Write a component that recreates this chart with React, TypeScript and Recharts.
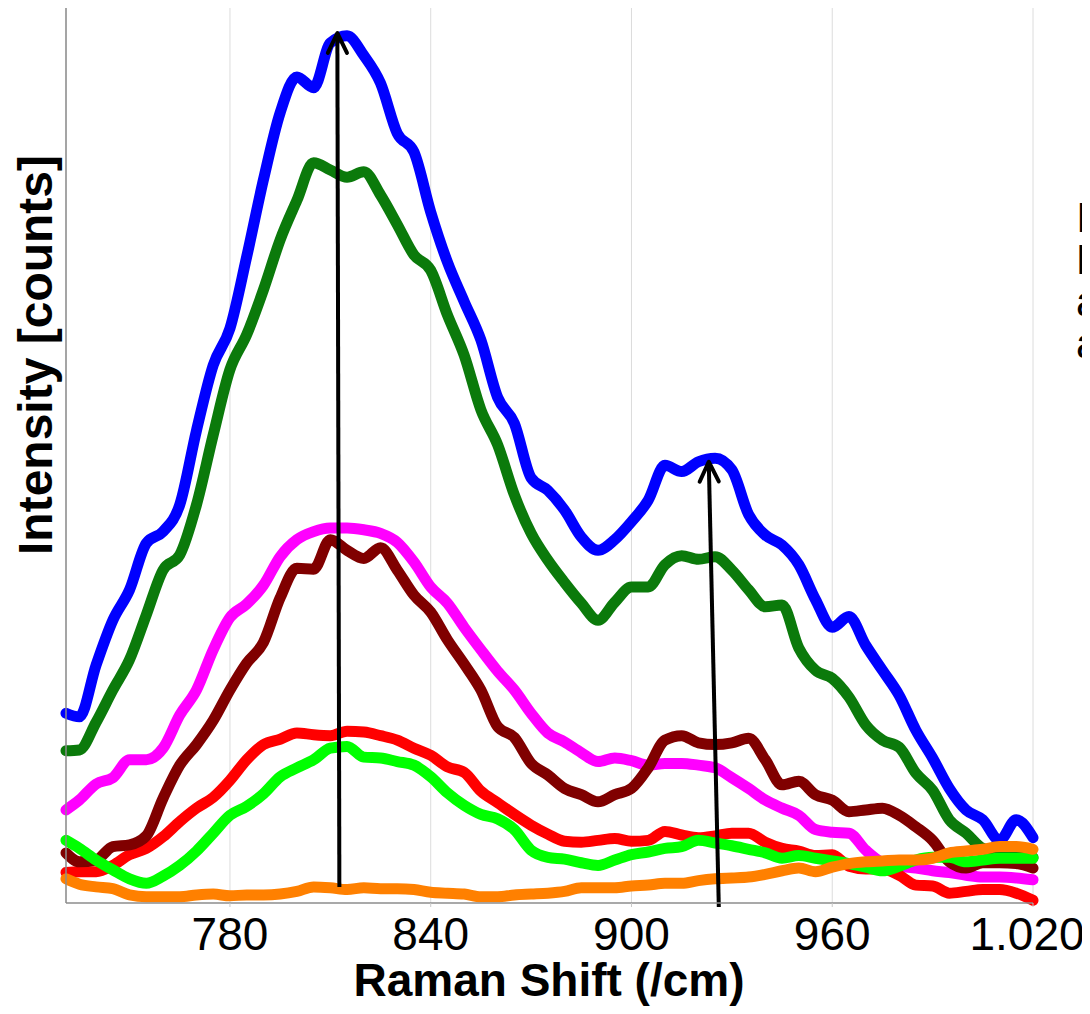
import { LineChart, Line, XAxis, YAxis, CartesianGrid, ReferenceLine } from 'recharts';

// Raman shift (/cm) sample positions
const ramanShift = [
  731, 735, 740, 745, 750, 755, 760, 765, 770, 775, 780, 785, 790, 795, 800, 805, 810, 815, 820, 825,
  830, 835, 840, 845, 850, 855, 860, 865, 870, 875, 880, 885, 890, 895, 900, 905, 910, 915, 920, 925,
  930, 935, 940, 945, 950, 955, 960, 965, 970, 975, 980, 985, 990, 995, 1000, 1005, 1010, 1015, 1020,
];

// intensities (arbitrary units)
const blueSeries = [
  21.2, 20.8, 26.6, 31.6, 35.0, 40.2, 41.5, 44.5, 52.8, 60.1, 64.2, 72.2, 80.8, 88.3, 92.3, 91.1, 96.1, 96.9, 94.7, 91.6,
  86.0, 83.9, 77.2, 71.6, 67.2, 62.9, 56.5, 53.6, 47.5, 46.1, 43.9, 40.9, 39.4, 40.6, 42.6, 45.0, 48.9, 48.2, 49.3, 49.7,
  48.4, 43.4, 41.1, 40.0, 37.8, 33.9, 30.8, 32.0, 28.8, 26.0, 23.2, 19.3, 16.2, 12.8, 10.4, 9.3, 7.0, 9.3, 7.3,
];
const greenSeries = [
  17.0, 17.1, 20.2, 23.8, 27.2, 32.2, 37.2, 38.9, 44.5, 52.3, 59.6, 63.5, 68.5, 74.1, 78.5, 82.7, 81.9, 81.1, 81.7, 79.1,
  75.8, 72.4, 70.7, 65.7, 61.2, 55.1, 51.2, 45.6, 41.3, 38.3, 35.8, 33.5, 31.6, 33.6, 35.3, 35.3, 37.8, 38.8, 38.4, 38.7,
  37.2, 35.0, 33.1, 33.3, 28.5, 26.0, 25.1, 23.0, 19.9, 18.2, 17.4, 14.5, 12.6, 9.3, 7.8, 6.1, 5.7, 5.5, 5.1,
];
const magentaSeries = [
  10.4, 11.5, 13.3, 14.0, 16.0, 16.0, 17.3, 21.0, 23.8, 28.3, 31.9, 33.4, 35.5, 38.7, 40.6, 41.5, 41.9, 41.9, 41.7, 41.3,
  40.3, 38.1, 35.3, 33.5, 30.8, 28.3, 25.9, 23.8, 21.2, 19.0, 18.0, 16.8, 15.8, 16.2, 15.9, 15.4, 15.6, 15.6, 15.4, 15.1,
  14.0, 12.8, 11.5, 10.6, 9.8, 8.2, 7.9, 7.8, 5.9, 4.5, 4.1, 3.9, 3.6, 3.4, 3.1, 2.9, 2.9, 2.8, 2.6,
];
const darkRedSeries = [
  5.6, 4.6, 4.8, 6.3, 6.5, 7.5, 11.7, 15.4, 17.7, 20.4, 23.8, 26.8, 29.1, 34.1, 37.4, 37.3, 40.6, 39.4, 38.5, 39.7,
  37.2, 34.4, 32.5, 29.4, 26.7, 23.8, 19.7, 18.5, 15.6, 14.3, 12.8, 12.1, 11.3, 12.1, 12.8, 15.1, 18.2, 18.7, 17.9, 17.7,
  17.9, 18.4, 16.0, 13.2, 13.6, 12.1, 11.5, 10.2, 10.4, 10.6, 9.8, 8.5, 7.0, 4.6, 3.9, 4.5, 4.5, 4.4, 3.9,
];
const redSeries = [
  3.4, 3.5, 3.5, 4.2, 5.4, 6.1, 7.4, 9.1, 10.6, 11.8, 13.7, 16.0, 17.7, 18.3, 19.0, 18.8, 18.7, 19.2, 19.1, 18.7,
  18.2, 17.3, 16.5, 15.2, 14.6, 12.5, 11.2, 9.9, 8.7, 7.7, 6.9, 6.8, 7.0, 7.2, 6.9, 7.0, 8.0, 7.6, 7.3, 7.5,
  7.8, 7.8, 6.8, 6.1, 5.8, 5.3, 5.4, 4.1, 3.8, 3.8, 3.1, 2.0, 1.9, 1.1, 1.3, 1.5, 1.5, 1.1, 0.3,
];
const limeSeries = [
  7.0, 6.1, 4.8, 3.7, 2.7, 2.2, 3.0, 4.2, 5.8, 7.8, 9.8, 10.8, 12.2, 14.1, 15.1, 16.0, 17.3, 17.5, 16.3, 16.2,
  15.8, 15.4, 14.1, 12.3, 10.9, 9.9, 9.4, 8.2, 5.9, 5.1, 4.9, 4.5, 4.2, 4.8, 5.4, 5.7, 6.1, 6.3, 7.0, 6.7,
  6.4, 6.0, 5.6, 5.0, 5.3, 5.0, 4.7, 4.4, 4.0, 3.6, 4.1, 4.8, 5.1, 5.1, 4.6, 4.8, 5.0, 5.0, 5.0,
];
const orangeSeries = [
  2.7, 2.1, 1.8, 1.6, 0.9, 0.7, 0.7, 0.7, 0.9, 1.0, 0.8, 0.9, 0.9, 1.0, 1.3, 1.8, 1.7, 1.5, 1.7, 1.6,
  1.6, 1.5, 1.2, 1.1, 1.0, 0.7, 0.7, 0.9, 1.0, 1.1, 1.3, 1.7, 1.7, 1.7, 1.9, 2.0, 2.2, 2.2, 2.5, 2.7,
  2.8, 2.9, 3.2, 3.6, 3.9, 3.5, 4.0, 4.4, 4.6, 4.7, 4.8, 4.8, 5.0, 5.6, 5.8, 6.0, 6.3, 6.3, 6.0,
];

const xTicks = [780, 840, 900, 960, 1020];

// peak-shift arrows: [start, tip]
const arrowLeft = [{ x: 812.7, y: 1.8 }, { x: 812.1, y: 97.2 }];
const arrowRight = [{ x: 926.1, y: -0.45 }, { x: 923.1, y: 49.3 }];

// text beside the chart, cut off by the page edge
const sideText = ['Increasing', 'Peaks', 'at', 'at'];

const data = ramanShift.map((x, i) => ({
  x,
  blue: blueSeries[i],
  green: greenSeries[i],
  magenta: magentaSeries[i],
  darkRed: darkRedSeries[i],
  red: redSeries[i],
  lime: limeSeries[i],
  orange: orangeSeries[i],
}));

const FONT = '"Liberation Sans", Arial, sans-serif';

const series = [
  { key: 'green', color: '#0b7a0b' },
  { key: 'blue', color: '#0000ff' },
  { key: 'magenta', color: '#ff00ff' },
  { key: 'red', color: '#ff0000' },
  { key: 'darkRed', color: '#800000' },
  { key: 'lime', color: '#00ff00' },
  { key: 'orange', color: '#ff8000' },
];

const Arrow = (props: any) => {
  const { x1, y1, x2, y2 } = props;
  const ang = Math.atan2(y2 - y1, x2 - x1);
  const len = 22;
  const spread = 0.45;
  const a1 = ang + Math.PI - spread;
  const a2 = ang + Math.PI + spread;
  const head = `M${x2 + len * Math.cos(a1)},${y2 + len * Math.sin(a1)} L${x2},${y2} L${x2 + len * Math.cos(a2)},${y2 + len * Math.sin(a2)}`;
  return (
    <g>
      <line x1={x1} y1={y1} x2={x2} y2={y2} stroke="#000" strokeWidth={4} />
      <path d={head} fill="none" stroke="#000" strokeWidth={4} strokeLinecap="round" strokeLinejoin="round" />
    </g>
  );
};

const tickFmt = (v: number) => (v >= 1000 ? v.toString().replace(/^(\d)(\d{3})$/, '$1.$2') : String(v));

const XTick = (props: any) => {
  const { x, y, payload } = props;
  // the last label sits a little left of its gridline in the original
  const shift = payload.value === 1020 ? -6 : 0;
  return (
    <text x={x + shift} y={y} dy="0.71em" textAnchor="middle" fontSize={46} fontFamily={FONT} fill="#000">
      {tickFmt(payload.value)}
    </text>
  );
};

export default function App() {
  return (
    <div style={{ position: 'relative', width: 1082, height: 1006, overflow: 'hidden', background: '#fff' }}>
      <LineChart width={1082} height={1006} data={data} margin={{ top: 0, right: 57, left: 0, bottom: 0 }}>
        <CartesianGrid horizontal={false} stroke="#dcdcdc" />
        <XAxis
          dataKey="x"
          type="number"
          domain={[731, 1020]}
          ticks={xTicks}
          height={111}
          tickSize={4}
          tickMargin={10}
          tickLine={{ stroke: '#c8c8c8' }}
          axisLine={{ stroke: '#8c8c8c', strokeWidth: 1.5 }}
          tick={(p: any) => <XTick {...p} />}
          label={{
            content: () => (
              <text x={541} y={988} textAnchor="middle" fontSize={46} fontWeight="bold" fontFamily={FONT} fill="#000">
                Raman Shift (/cm)
              </text>
            ),
          }}
        />
        <YAxis
          type="number"
          domain={[0, 100]}
          width={58}
          tick={false}
          tickLine={false}
          axisLine={{ stroke: '#8c8c8c', strokeWidth: 1.5 }}
          label={{
            content: () => (
              <text
                x={44}
                y={347}
                transform="rotate(-90 44 347)"
                textAnchor="middle"
                fontSize={48}
                fontWeight="bold"
                fontFamily={FONT}
                fill="#000"
              >
                Intensity [counts]
              </text>
            ),
          }}
        />
        {series.map((s) => (
          <Line
            key={s.key}
            dataKey={s.key}
            type="monotone"
            stroke={s.color}
            strokeWidth={11}
            strokeLinejoin="round"
            strokeLinecap="round"
            dot={false}
            activeDot={false}
            isAnimationActive={false}
          />
        ))}
        <ReferenceLine segment={arrowLeft} ifOverflow="visible" shape={(p: any) => <Arrow {...p} />} />
        <ReferenceLine segment={arrowRight} ifOverflow="visible" shape={(p: any) => <Arrow {...p} />} />
      </LineChart>
      <svg width={1082} height={1006} style={{ position: 'absolute', left: 0, top: 0, pointerEvents: 'none' }}>
        {sideText.map((t, i) => (
          <text key={i} x={1068} y={224 + i * 42} fontSize={42} fontFamily={FONT} fill="#000">
            {t}
          </text>
        ))}
      </svg>
    </div>
  );
}
